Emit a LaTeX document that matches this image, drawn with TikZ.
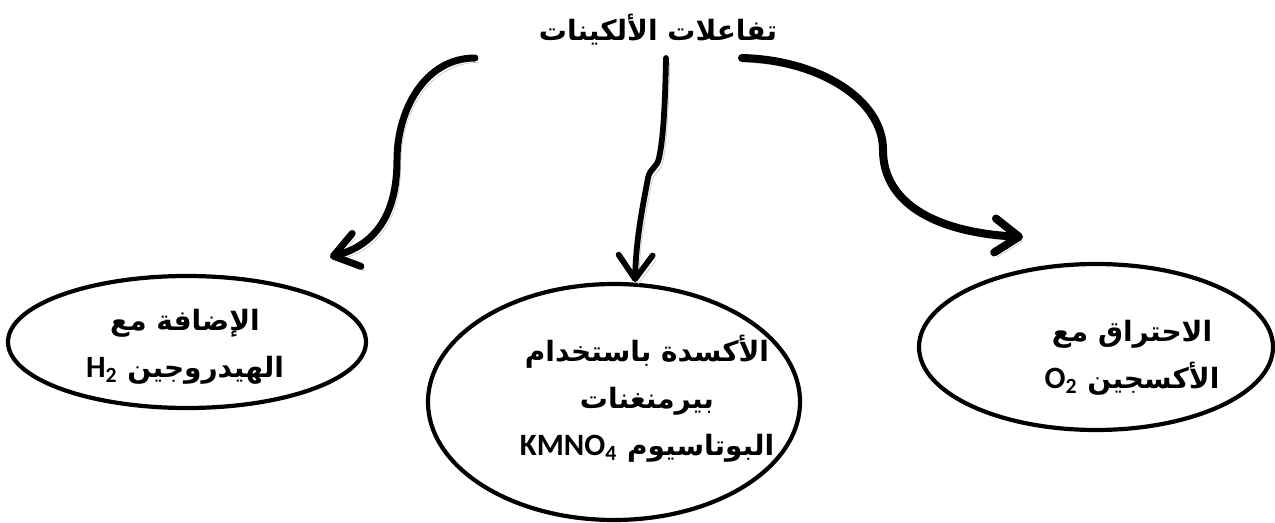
\documentclass[tikz,border=0pt]{standalone}
\usepackage{fontspec}
\usetikzlibrary{shapes.geometric,arrows.meta}
\TeXXeTstate=1
\newfontfamily\arabicfont[Script=Arabic]{DejaVu Sans}
\newfontfamily\latfont{Carlito Bold}
\newcommand{\ar}[1]{\beginR #1\endR}
\newcommand{\lt}[1]{\beginL{\latfont\fontsize{15.5}{20}\selectfont #1}\endL{}}
\begin{document}
\begin{tikzpicture}[x=0.5pt,y=-0.5pt,
  oval/.style={draw, line width=2.1pt, ellipse, inner sep=0pt},
  lbl/.style={font=\arabicfont\bfseries\fontsize{14}{23.5}\selectfont, align=center, inner sep=0pt},
  conn/.style={line width=#1, line cap=round,
     -{Straight Barb[length=12pt,width=17pt,line cap=round,line join=round]},
     preaction={draw=black!20, transform canvas={shift={(1.8pt,-2.2pt)}}}},
]
\useasboundingbox (0,0) rectangle (1275,523);
% title
\node[lbl] (title) at (658,30) {\ar{تفاعلات الألكينات}};
% ellipses
\node[oval, minimum width=179pt, minimum height=66pt] (e1) at (187,342) {};
\node[oval, minimum width=186pt, minimum height=118pt] (e2) at (614,402) {};
\node[oval, minimum width=177pt, minimum height=83pt] (e3) at (1096,347) {};
% texts
\node[lbl] (t1) at (185,347) {\ar{الإضافة مع}\\\ar{الهيدروجين \lt{H\textsubscript{2}}}};
\node[lbl] (t2) at (647,399) {\ar{الأكسدة باستخدام}\\\ar{بيرمنغنات}\\\ar{البوتاسيوم \lt{KMNO\textsubscript{4}}}};
\node[lbl] (t3) at (1132,358) {\ar{الاحتراق مع}\\\ar{الأكسجين \lt{O\textsubscript{2}}}};
% connector ends
\coordinate (s1) at (475,58);
\coordinate (s2) at (666,58);
\coordinate (s3) at (742,58);
\coordinate (a1) at (330,257);
\coordinate (a2) at (635,282);
\coordinate (a3) at (1023,237);
% arrows
\draw[conn=3.5pt] (s1) .. controls (425,58) and (397,110) .. (397,160)
   .. controls (397,215) and (375,245) .. (a1);
\draw[conn=2.9pt] (s2) .. controls (665,110) and (663,140) .. (659,158)
   .. controls (657,168) and (650,168) .. (648,178)
   .. controls (642,210) and (636,240) .. (a2);
\draw[conn=4pt] (s3) .. controls (820,60) and (883,100) .. (883,150)
   .. controls (883,200) and (930,232) .. (a3);
\end{tikzpicture}
\end{document}
